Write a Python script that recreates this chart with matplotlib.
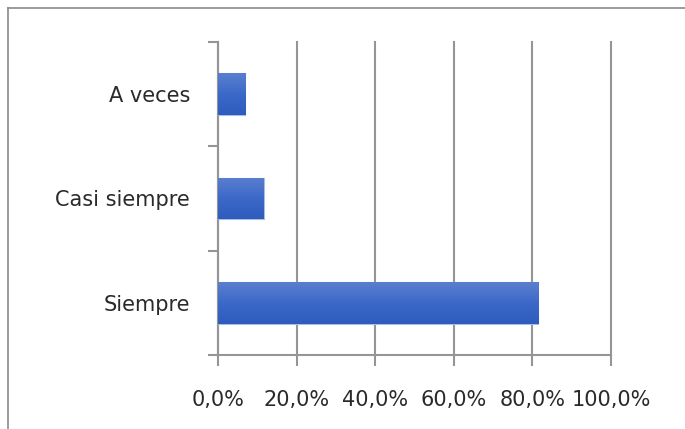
import matplotlib
matplotlib.use('Agg')
import matplotlib.pyplot as plt
import numpy as np
from matplotlib.lines import Line2D

categories = ['Siempre', 'Casi siempre', 'A veces']
values = [81.5, 11.6, 6.9]
xticks = [0, 20, 40, 60, 80, 100]
xlabels = ['0,0%', '20,0%', '40,0%', '60,0%', '80,0%', '100,0%']

fig = plt.figure(figsize=(6.85, 4.29), dpi=100)
ax = fig.add_axes([218 / 685, (429 - 355) / 429, (611 - 218) / 685, (355 - 42) / 429])

grid_col = '#959595'
y = np.arange(len(categories))
bars = ax.barh(y, values, height=0.4, color='#3f6cc8', edgecolor='#a9bde6', linewidth=0.8, zorder=3)

# vertical gradient in each bar, like the Excel fill
grad = np.linspace(0, 1, 100).reshape(-1, 1)
cmap = matplotlib.colors.LinearSegmentedColormap.from_list('g', ['#5b7fcf', '#3c69c8', '#2e5cbd'])
for b in bars:
    x0, y0 = b.get_x(), b.get_y()
    w, h = b.get_width(), b.get_height()
    im = ax.imshow(grad, extent=[x0, x0 + w, y0, y0 + h], aspect='auto', cmap=cmap,
                   origin='upper', zorder=4)
    im.set_clip_path(b)

ax.set_xlim(0, 100)
ax.set_ylim(-0.5, 2.5)
ax.set_xticks(xticks)
ax.set_xticklabels(xlabels, fontsize=15, color='#2a2a2a')
ax.set_yticks(y)
ax.set_yticklabels(categories, fontsize=15, color='#2a2a2a')
ax.set_yticks([-0.5, 0.5, 1.5, 2.5], minor=True)

ax.grid(axis='x', color=grid_col, linewidth=1.5, zorder=0)
for gl in ax.get_xgridlines():
    gl.set_clip_on(False)
for s in ['top', 'right']:
    ax.spines[s].set_visible(False)
for s in ['left', 'bottom']:
    ax.spines[s].set_color(grid_col)
    ax.spines[s].set_linewidth(1.5)
ax.tick_params(axis='y', which='major', length=0, pad=20)
ax.tick_params(axis='y', which='minor', length=7, width=1.5, color=grid_col)
ax.tick_params(axis='x', length=8, width=1.5, color=grid_col, pad=17)

# chart area border (top and left visible in the crop)
fig.add_artist(Line2D([8 / 685, 1], [1 - 8 / 429, 1 - 8 / 429], color='#8a8a8a', linewidth=1.2))
fig.add_artist(Line2D([8 / 685, 8 / 685], [0, 1 - 8 / 429], color='#8a8a8a', linewidth=1.2))

fig.savefig('out.png', dpi=100)
